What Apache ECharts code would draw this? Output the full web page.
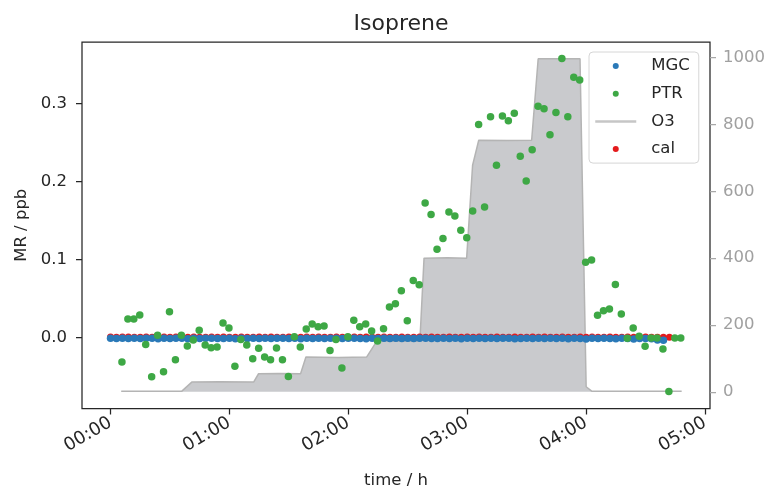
<!DOCTYPE html>
<html>
<head>
<meta charset="utf-8">
<script src="https://cdn.jsdelivr.net/npm/echarts@6/dist/echarts.min.js"></script>
<style>html,body{margin:0;padding:0;background:#fff}#c{width:773px;height:492px}</style>
</head>
<body>
<div id="c"></div>
<script>
// ---- data (time in minutes after 00:00) ----
const mgcTime = [0,3,6,9,12,15,18,21,24,27,30,33,36,39,42,45,48,51,54,57,60,63,66,69,72,75,78,81,84,87,90,93,96,99,102,105,108,111,114,117,120,123,126,129,132,135,138,141,144,147,150,153,156,159,162,165,168,171,174,177,180,183,186,189,192,195,198,201,204,207,210,213,216,219,222,225,228,231,234,237,240,243,246,249,252,255,258,261,264,267,270,273,276,279];
const mgcValue = [-0.0012,-0.0015,-0.0010,-0.0014,-0.0011,-0.0016,-0.0013,-0.0012,-0.0018,-0.0011,
 -0.0014,-0.0013,-0.0010,-0.0017,-0.0012,-0.0015,-0.0013,-0.0011,-0.0016,-0.0014,
 -0.0012,-0.0019,-0.0013,-0.0015,-0.0011,-0.0014,-0.0012,-0.0016,-0.0013,-0.0010,
 -0.0015,-0.0013,-0.0017,-0.0012,-0.0014,-0.0011,-0.0016,-0.0013,-0.0012,-0.0015,
 -0.0013,-0.0011,-0.0014,-0.0018,-0.0012,-0.0015,-0.0013,-0.0016,-0.0011,-0.0014,
 -0.0012,-0.0015,-0.0013,-0.0010,-0.0016,-0.0014,-0.0012,-0.0015,-0.0013,-0.0017,
 -0.0011,-0.0014,-0.0013,-0.0016,-0.0012,-0.0015,-0.0013,-0.0011,-0.0018,-0.0014,
 -0.0012,-0.0015,-0.0013,-0.0016,-0.0011,-0.0014,-0.0013,-0.0017,-0.0012,-0.0015,
 -0.0020,-0.0013,-0.0016,-0.0012,-0.0014,-0.0018,-0.0013,-0.0015,-0.0021,-0.0014,
 -0.0016,-0.0019,-0.0035,-0.0038];

const ptrTime = [5.75,8.75,11.75,14.75,17.75,20.75,23.75,26.75,29.75,32.75,
 35.75,38.75,41.75,44.75,47.75,50.75,53.75,56.75,59.75,62.75,
 65.75,68.75,71.75,74.75,77.75,80.75,83.75,86.75,89.75,92.75,
 95.75,98.75,101.75,104.75,107.75,110.75,113.75,116.75,119.75,122.75,
 125.75,128.75,131.75,134.75,137.75,140.75,143.75,146.75,149.75,152.75,
 155.75,158.75,161.75,164.75,167.75,170.75,173.75,176.75,179.75,182.75,
 185.75,188.75,191.75,194.75,197.75,200.75,203.75,206.75,209.75,212.75,
 215.75,218.75,221.75,224.75,227.75,230.75,233.75,236.75,239.75,242.75,
 245.75,248.75,251.75,254.75,257.75,260.75,263.75,266.75,269.75,272.75,
 275.75,278.75,281.75,284.75,287.75];
const ptrValue = [-0.0315,0.0236,0.0236,0.0287,-0.0093,-0.0507,0.0026,-0.0443,0.0329,-0.0289,
 0.0026,-0.0110,-0.0033,0.0090,-0.0097,-0.0132,-0.0123,0.0184,0.0120,-0.0371,
 -0.0026,-0.0097,-0.0273,-0.0141,-0.0251,-0.0289,-0.0136,-0.0286,-0.0503,0.0009,
 -0.0123,0.0108,0.0172,0.0137,0.0146,-0.0170,-0.0029,-0.0392,0.0009,0.0218,
 0.0137,0.0172,0.0082,-0.0046,0.0111,0.0389,0.0431,0.0598,0.0214,0.0730,
 0.0675,0.1725,0.1575,0.1132,0.1268,0.1609,0.1558,0.1375,0.1277,0.1622,
 0.2732,0.1673,0.2830,0.2207,0.2839,0.2778,0.2877,0.2323,0.2006,0.2407,
 0.2967,0.2932,0.2599,0.2886,0.3577,0.2830,0.3338,0.3303,0.0965,0.0991,
 0.0282,0.0342,0.0364,0.0679,0.0300,-0.0013,0.0120,0.0013,-0.0115,-0.0008,
 -0.0008,-0.0149,-0.0695,-0.0008,-0.0008];

const o3Time  = [5.4,20,36,41,55,72.2,74.7,85,95.9,98.6,115,129.2,134.3,145,156.1,158.2,170,179.7,182.7,185.8,200,212.5,215.8,225,236.9,240,242.8,260,288.2];
const o3Value = [2,2,2,29,30,29,54,55,54,104,103,104,151,152,151,400,401,400,678,753,752,753,997,997,997,15,2,2,2];

const calTime = [0,3,6,9,12,15,18,21,24,27,30,33,36,39,42,45,48,51,54,57,60,63,66,69,72,75,78,81,84,87,90,93,96,99,102,105,108,111,114,117,120,123,126,129,132,135,138,141,144,147,150,153,156,159,162,165,168,171,174,177,180,183,186,189,192,195,198,201,204,207,210,213,216,219,222,225,228,231,234,237,240,243,246,249,252,255,258,261,264,267,270,273,276,279,282];
const calValue = [0.0003,0.0002,0.0003,0.0004,0.0002,0.0002,0.0003,0.0002,0.0001,0.0003,
 0.0002,0.0004,0.0002,0.0002,0.0003,0.0002,0.0002,0.0003,0.0002,0.0004,
 0.0002,0.0002,0.0003,0.0002,0.0002,0.0004,0.0002,0.0003,0.0002,0.0002,
 0.0003,0.0002,0.0002,0.0004,0.0002,0.0003,0.0002,0.0002,0.0003,0.0002,
 0.0002,0.0003,0.0002,0.0004,0.0002,0.0002,0.0003,0.0002,0.0002,0.0003,
 0.0002,0.0002,0.0004,0.0002,0.0003,0.0002,0.0002,0.0003,0.0002,0.0002,
 0.0003,0.0002,0.0004,0.0002,0.0002,0.0003,0.0002,0.0002,0.0003,0.0002,
 0.0002,0.0004,0.0002,0.0003,0.0002,0.0002,0.0003,0.0002,0.0002,0.0003,
 0.0002,0.0004,0.0002,0.0002,0.0003,0.0002,0.0002,0.0003,0.0002,0.0002,
 0.0003,0.0002,0.0002,0.0001,0.0000];

const xTicks = [0,60,120,180,240,300];
const yTicksLeft = [0,0.1,0.2,0.3];
const yTicksRight = [0,200,400,600,800,1000];

// ---- chart ----
const zip = (a,b) => a.map((t,i)=>[t,b[i]]);
const FONT = 'DejaVu Sans';
const DARK = '#262626';
const chart = echarts.init(document.getElementById('c'), null, {renderer:'canvas'});
const pad2 = n => (n<10?'0':'')+n;

chart.setOption({
  animation:false,
  backgroundColor:'#fff',
  textStyle:{fontFamily:FONT},
  title:{text:'Isoprene', left:396, top:8, textAlign:'center',
    textStyle:{fontFamily:FONT, fontSize:22, fontWeight:'normal', color:DARK}},
  grid:{left:82, right:63, top:42, bottom:83.5, outerBoundsMode:'none', containLabel:false,
    show:true, borderColor:DARK, borderWidth:1.25, backgroundColor:'transparent'},
  legend:{
    orient:'vertical', left:589, top:52,
    data:[
      {name:'MGC', icon:'circle'},
      {name:'PTR', icon:'circle'},
      {name:'O3', lineStyle:{color:'#c6c6c6', width:2.5}, itemStyle:{opacity:0}},
      {name:'cal', icon:'circle'}
    ],
    itemWidth:41, itemHeight:6, itemGap:9.7,
    padding:[5,9,5,5],
    backgroundColor:'rgba(255,255,255,0.85)', borderColor:'#d6d6d6', borderWidth:1, borderRadius:4,
    textStyle:{fontFamily:FONT, fontSize:16.5, color:DARK, lineHeight:18, padding:[0,0,0,10]},
    selectedMode:false
  },
  xAxis:{
    type:'value', min:-14.4, max:302.5,
    axisLine:{show:false, onZero:false},
    splitLine:{show:false},
    axisTick:{show:true, customValues:xTicks, length:6, lineStyle:{color:DARK, width:1.25}},
    axisLabel:{customValues:xTicks, rotate:30, margin:13, fontFamily:FONT, fontSize:18, color:DARK,
      formatter:v=>pad2(Math.floor(v/60))+':'+pad2(Math.round(v%60))},
    name:'time / h', nameLocation:'middle', nameGap:64,
    nameTextStyle:{fontFamily:FONT, fontSize:16.5, color:DARK}
  },
  yAxis:[{
    type:'value', min:-0.0913, max:0.379,
    axisLine:{show:false, onZero:false},
    splitLine:{show:false},
    axisTick:{show:true, customValues:yTicksLeft, length:6, lineStyle:{color:DARK, width:1.25}},
    axisLabel:{customValues:yTicksLeft, margin:15, fontFamily:FONT, fontSize:16.5, color:DARK,
      formatter:v=>v.toFixed(1)},
    name:'MR / ppb', nameLocation:'middle', nameGap:52, nameRotate:90,
    nameTextStyle:{fontFamily:FONT, fontSize:16.5, color:DARK}
  },{
    type:'value', position:'right', min:-50, max:1047,
    axisLine:{show:false, onZero:false},
    splitLine:{show:false},
    axisTick:{show:true, customValues:yTicksRight, length:6, lineStyle:{color:'#a8a8a8', width:1.25}},
    axisLabel:{customValues:yTicksRight, margin:13, fontFamily:FONT, fontSize:16.5, color:'#a0a0a0',
      formatter:v=>String(v)}
  }],
  series:[
    {name:'O3', type:'line', yAxisIndex:1, data:zip(o3Time,o3Value), symbol:'none', showSymbol:false,
      lineStyle:{color:'#b4b4b4', width:1.5}, areaStyle:{color:'#c9cacd', opacity:1, origin:0}, z:1},
    {name:'cal', type:'scatter', data:zip(calTime,calValue), symbol:'circle', symbolSize:7,
      itemStyle:{color:'#e41a1c', opacity:1}, z:2},
    {name:'MGC', type:'scatter', data:zip(mgcTime,mgcValue), symbol:'circle', symbolSize:7.5,
      itemStyle:{color:'#2a79b8', opacity:1}, z:3},
    {name:'PTR', type:'scatter', data:zip(ptrTime,ptrValue), symbol:'circle', symbolSize:7.5,
      itemStyle:{color:'#3ea845', opacity:1}, z:4}
  ]
});
</script>
</body>
</html>
